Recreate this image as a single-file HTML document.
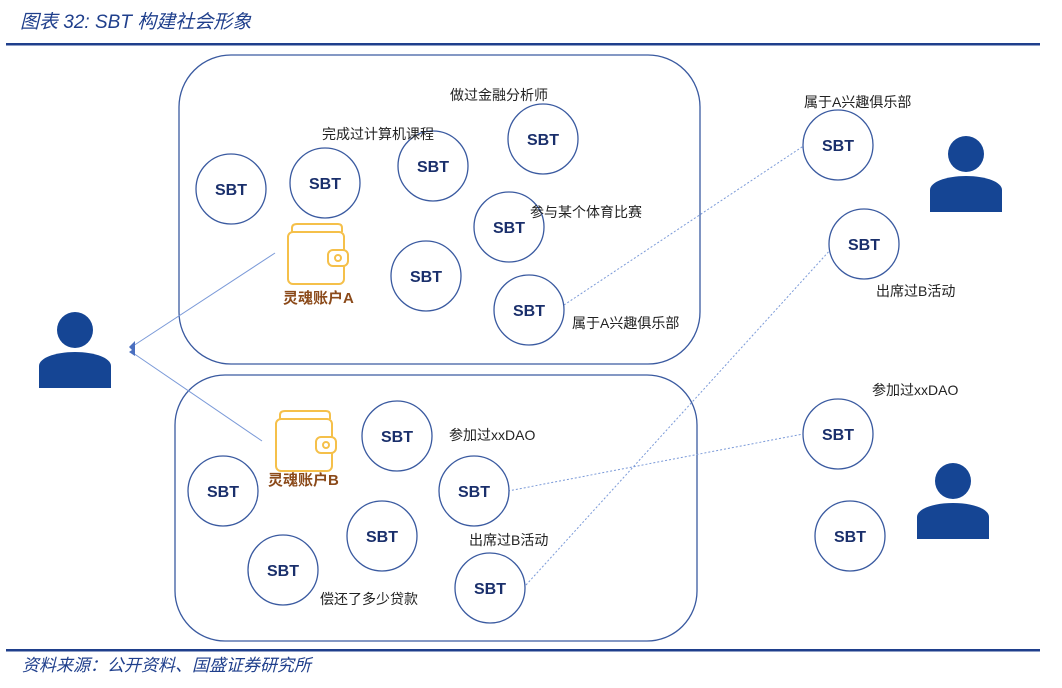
<!DOCTYPE html>
<html><head><meta charset="utf-8"><style>
body{margin:0;width:1062px;height:688px;background:#fff;overflow:hidden}
svg{display:block}
.t{font-family:"Liberation Sans","Noto Sans CJK SC",sans-serif;font-size:14px;fill:#222}
.s{font-family:"Liberation Sans","Noto Sans CJK SC",sans-serif;font-size:16px;font-weight:bold;fill:#1a2f6b}
.h{font-family:"Liberation Sans","Noto Sans CJK SC",sans-serif;font-size:19px;font-style:italic;fill:#1f3f8c}
.f{font-family:"Liberation Sans","Noto Sans CJK SC",sans-serif;font-size:17px;font-style:italic;fill:#1f3f8c}
.w{font-family:"Liberation Sans","Noto Sans CJK SC",sans-serif;font-size:15px;font-weight:bold;fill:#8b4a1a}
</style></head><body>
<svg width="1062" height="688" viewBox="0 0 1062 688">
<defs>
<g id="c"><circle r="35" fill="#fff" stroke="#3a5aa0" stroke-width="1.3"/><text class="s" text-anchor="middle" y="6">SBT</text></g>
<g id="p" fill="#154594"><circle cx="0" cy="0" r="18"/><path d="M-36,58 V36 C-36,28 -20,22 0,22 C20,22 36,28 36,36 V58 Z"/></g>
<g id="wal" fill="none" stroke="#f5c04a" stroke-width="2"><rect x="0" y="0" width="56" height="52" rx="5"/><path d="M4,0 V-4 Q4,-8 9,-8 H50 Q54,-8 54,-4 V0"/><rect x="40" y="18" width="20" height="16" rx="5" fill="#fff"/><circle cx="50" cy="26" r="3"/></g>
</defs>
<text class="h" x="20" y="28">图表 32:  SBT 构建社会形象</text>
<rect x="6" y="43" width="1034" height="2.5" fill="#1f3f8c"/>
<rect x="6" y="649" width="1034" height="2.5" fill="#1f3f8c"/>
<text class="f" x="22" y="671">资料来源：公开资料、国盛证券研究所</text>

<rect x="179" y="55" width="521" height="309" rx="52" fill="none" stroke="#3a5aa0" stroke-width="1.3"/>
<rect x="175" y="375" width="522" height="266" rx="50" fill="none" stroke="#3a5aa0" stroke-width="1.3"/>

<g stroke="#7b9ad8" stroke-width="1" fill="none">
<line x1="275" y1="253" x2="133" y2="346"/>
<line x1="262" y1="441" x2="133" y2="353"/>
</g>
<path d="M129,347 L135,341 L135,353 Z" fill="#4a6fc0"/>
<path d="M129,352 L135,348 L135,356 Z" fill="#4a6fc0"/>
<g stroke="#7b9ad8" stroke-width="1" stroke-dasharray="2,2" fill="none">
<line x1="564" y1="305" x2="805" y2="145"/>
<line x1="526" y1="585" x2="832" y2="248"/>
<line x1="508" y1="491" x2="803" y2="434"/>
</g>

<use href="#c" x="231" y="189"/><use href="#c" x="325" y="183"/><use href="#c" x="433" y="166"/>
<use href="#c" x="543" y="139"/><use href="#c" x="509" y="227"/><use href="#c" x="426" y="276"/>
<use href="#c" x="529" y="310"/>
<use href="#c" x="397" y="436"/><use href="#c" x="223" y="491"/><use href="#c" x="474" y="491"/>
<use href="#c" x="382" y="536"/><use href="#c" x="283" y="570"/><use href="#c" x="490" y="588"/>
<use href="#c" x="838" y="145"/><use href="#c" x="864" y="244"/><use href="#c" x="838" y="434"/><use href="#c" x="850" y="536"/>

<text class="t" x="450" y="100">做过金融分析师</text>
<text class="t" x="322" y="139">完成过计算机课程</text>
<text class="t" x="530" y="217">参与某个体育比赛</text>
<text class="t" x="572" y="328">属于A兴趣俱乐部</text>
<text class="t" x="449" y="440">参加过xxDAO</text>
<text class="t" x="469" y="545">出席过B活动</text>
<text class="t" x="320" y="604">偿还了多少贷款</text>
<text class="t" x="804" y="107">属于A兴趣俱乐部</text>
<text class="t" x="876" y="296">出席过B活动</text>
<text class="t" x="872" y="395">参加过xxDAO</text>

<use href="#wal" x="288" y="232"/>
<text class="w" x="283" y="303">灵魂账户A</text>
<use href="#wal" x="276" y="419"/>
<text class="w" x="268" y="485">灵魂账户B</text>

<use href="#p" x="75" y="330"/>
<use href="#p" x="966" y="154"/>
<use href="#p" x="953" y="481"/>
</svg>
</body></html>
